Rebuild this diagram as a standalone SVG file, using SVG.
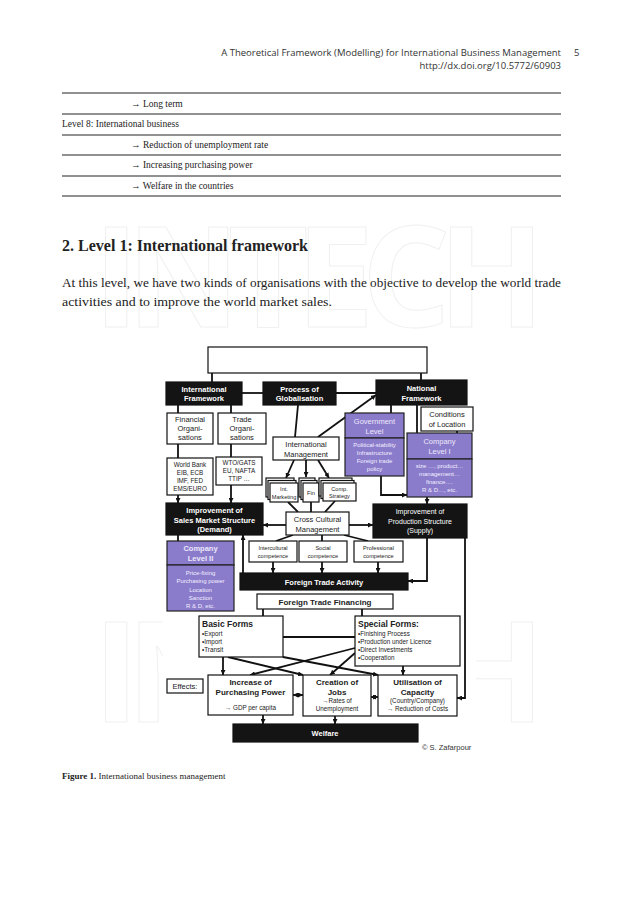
<svg xmlns="http://www.w3.org/2000/svg" width="638" height="901" viewBox="0 0 638 901">
<defs>
<marker id="ah" viewBox="0 0 6 6" refX="6" refY="3" markerWidth="5" markerHeight="5" markerUnits="userSpaceOnUse" orient="auto-start-reverse"><path d="M0,0 L6,3 L0,6 z" fill="#111"/></marker>
</defs>
<style>
.hdr{font-family:"Open Sans","Liberation Sans",sans-serif;font-size:9.5px;fill:#333}
.serif{font-family:"Liberation Serif",serif;fill:#222}
.wm{font-family:"Open Sans","Liberation Sans",sans-serif;font-weight:bold;font-size:140px;fill:none;stroke:#f0f0f0;stroke-width:1}
.rule{stroke:#222;stroke-width:1}
.box{fill:#fff;stroke:#111;stroke-width:1.2}
.blk{fill:#141414;stroke:#111;stroke-width:1.2}
.pur{fill:#8b7ccb;stroke:#222;stroke-width:1.2}
text{font-family:"Liberation Sans",Arial,sans-serif}
.t{font-size:7.5px;fill:#222;text-anchor:middle}
.ts{font-size:6.3px;fill:#222;text-anchor:middle}
.tx{font-size:5.6px;fill:#222;text-anchor:middle}
.w{font-size:7.5px;fill:#fff;font-weight:bold;text-anchor:middle}
.wn{font-size:7px;fill:#fff;text-anchor:middle}
.pl{font-size:7.5px;fill:#ece8fa;text-anchor:middle}
.pb{font-size:6px;fill:#f2efff;text-anchor:middle}
.b{font-size:8px;fill:#222;font-weight:bold;text-anchor:middle}
.lt{font-size:6.3px;fill:#222}
.c{stroke:#111;stroke-width:1.8;fill:none}
.ca{stroke:#111;stroke-width:1.8;fill:none;marker-end:url(#ah)}
</style>
<rect width="638" height="901" fill="#fff"/>
<!-- watermark -->
<text class="wm" x="93" y="327" textLength="452" lengthAdjust="spacing">INTECH</text>
<text class="wm" x="93" y="722" textLength="452" lengthAdjust="spacing">INTECH</text>
<rect x="163" y="338" width="313" height="416" fill="#fff"/>
<!-- header -->
<text class="hdr" x="561" y="56" text-anchor="end">A Theoretical Framework (Modelling) for International Business Management</text>
<text class="hdr" x="574" y="56">5</text>
<text class="hdr" x="561" y="69" text-anchor="end">http://dx.doi.org/10.5772/60903</text>
<!-- table -->
<g>
<line class="rule" x1="62" y1="93" x2="561" y2="93"/>
<line class="rule" x1="62" y1="114" x2="561" y2="114"/>
<line class="rule" x1="62" y1="135" x2="561" y2="135"/>
<line class="rule" x1="62" y1="155" x2="561" y2="155"/>
<line class="rule" x1="62" y1="176" x2="561" y2="176"/>
<line class="rule" x1="62" y1="196" x2="561" y2="196"/>
<text class="serif" x="131" y="107" font-size="9.5">→  Long term</text>
<text class="serif" x="62" y="127" font-size="9.5">Level 8: International business</text>
<text class="serif" x="131" y="148" font-size="9.5">→  Reduction of unemployment rate</text>
<text class="serif" x="131" y="168" font-size="9.5">→  Increasing purchasing power</text>
<text class="serif" x="131" y="189" font-size="9.5">→  Welfare in the countries</text>
</g>
<text class="serif" x="62" y="251" font-size="17" font-weight="bold" textLength="246" lengthAdjust="spacingAndGlyphs">2. Level 1: International framework</text>
<text class="serif" x="62" y="287" font-size="12.8" textLength="499" lengthAdjust="spacingAndGlyphs">At this level, we have two kinds of organisations with the objective to develop the world trade</text>
<text class="serif" x="62" y="306" font-size="12.8" textLength="270" lengthAdjust="spacingAndGlyphs">activities and to improve the world market sales.</text>

<!-- connectors -->
<g id="connectors">
<line class="c" x1="212" y1="373" x2="212" y2="382"/>
<line class="c" x1="421" y1="373" x2="421" y2="380"/>
<line class="c" x1="242" y1="393" x2="263" y2="393"/>
<line class="c" x1="336" y1="393" x2="376" y2="393"/>
<line class="c" x1="298" y1="405" x2="295" y2="437"/>
<line class="ca" x1="318" y1="437" x2="376" y2="395"/>
<line class="c" x1="178" y1="405" x2="178" y2="413"/>
<line class="c" x1="231" y1="405" x2="231" y2="413"/>
<line class="c" x1="178" y1="444" x2="178" y2="458"/>
<line class="c" x1="231" y1="444" x2="231" y2="457"/>
<line class="ca" x1="178" y1="495" x2="178" y2="503"/>
<line class="ca" x1="231" y1="485" x2="231" y2="503"/>
<line class="c" x1="391" y1="405" x2="391" y2="413"/>
<line class="c" x1="417" y1="405" x2="417" y2="433"/>
<line class="c" x1="457" y1="431" x2="457" y2="433"/>
<path class="ca" d="M381,476 V495 H407"/>
<line class="ca" x1="427" y1="497" x2="427" y2="504"/>
<line class="ca" x1="294" y1="460" x2="286" y2="478"/>
<line class="ca" x1="306" y1="460" x2="306" y2="477"/>
<line class="ca" x1="318" y1="460" x2="329" y2="478"/>
<line class="c" x1="288" y1="502" x2="298" y2="512"/>
<line class="c" x1="311" y1="502" x2="311" y2="512"/>
<line class="c" x1="335" y1="501" x2="325" y2="512"/>
<line class="ca" x1="286" y1="525" x2="263" y2="525"/>
<line class="ca" x1="349" y1="525" x2="373" y2="525"/>
<line class="c" x1="178" y1="535" x2="178" y2="541"/>
<line class="c" x1="293" y1="535" x2="276" y2="541"/>
<line class="c" x1="322" y1="535" x2="322" y2="541"/>
<line class="c" x1="344" y1="535" x2="368" y2="541"/>
<line class="ca" x1="273" y1="562" x2="273" y2="573"/>
<line class="ca" x1="322" y1="562" x2="322" y2="573"/>
<line class="ca" x1="378" y1="562" x2="378" y2="573"/>
<line class="ca" x1="243" y1="573" x2="243" y2="535"/>
<path class="ca" d="M427,538 V581 H408"/>
<path class="ca" d="M465,538 V698 H457"/>
<line class="c" x1="263" y1="609" x2="263" y2="616"/>
<line class="c" x1="362" y1="609" x2="362" y2="616"/>
<line class="c" x1="283" y1="637" x2="355" y2="637"/>
<line class="ca" x1="223" y1="657" x2="223" y2="675"/>
<line class="ca" x1="228" y1="657" x2="303" y2="675"/>
<line class="ca" x1="283" y1="657" x2="378" y2="675"/>
<line class="ca" x1="355" y1="648" x2="250" y2="675"/>
<line class="ca" x1="355" y1="653" x2="330" y2="675"/>
<line class="ca" x1="403" y1="666" x2="403" y2="675"/>
<line class="ca" x1="293" y1="695" x2="303" y2="695" marker-start="url(#ah)"/>
<line class="ca" x1="371" y1="697" x2="378" y2="697" marker-start="url(#ah)"/>
<line class="ca" x1="263" y1="715" x2="263" y2="724"/>
<line class="ca" x1="335" y1="716" x2="335" y2="724"/>
</g>

<!-- nodes -->
<g id="top-box"><rect class="box" x="208" y="347" width="219" height="26"/></g>
<g id="intl-framework"><rect class="blk" x="166" y="382" width="76" height="23"/>
<text class="w" x="204" y="391.5">International</text><text class="w" x="204" y="401">Framework</text></g>
<g id="globalisation"><rect class="blk" x="263" y="382" width="73" height="23"/>
<text class="w" x="299.5" y="391.5">Process of</text><text class="w" x="299.5" y="401">Globalisation</text></g>
<g id="natl-framework"><rect class="blk" x="376" y="380" width="91" height="25"/>
<text class="w" x="421.5" y="390.5">National</text><text class="w" x="421.5" y="401">Framework</text></g>
<g id="financial-org"><rect class="box" x="167" y="413" width="46" height="31"/>
<text class="t" x="190" y="422">Financial</text><text class="t" x="190" y="431">Organi-</text><text class="t" x="190" y="440">sations</text></g>
<g id="trade-org"><rect class="box" x="218" y="413" width="48" height="31"/>
<text class="t" x="242" y="422">Trade</text><text class="t" x="242" y="431">Organi-</text><text class="t" x="242" y="440">sations</text></g>
<g id="conditions"><rect class="box" x="421" y="407" width="52" height="24"/>
<text class="t" x="447" y="417">Conditions</text><text class="t" x="447" y="427">of Location</text></g>
<g id="government"><rect class="pur" x="345" y="413" width="59" height="25"/><rect class="pur" x="345" y="438" width="59" height="38"/>
<text class="pl" x="374.5" y="423.5">Government</text><text class="pl" x="374.5" y="434">Level</text>
<text class="pb" x="374.5" y="447">Political-stability</text><text class="pb" x="374.5" y="455">Infrastructure</text><text class="pb" x="374.5" y="463">Foreign trade</text><text class="pb" x="374.5" y="471">policy</text></g>
<g id="company-1"><rect class="pur" x="407" y="433" width="65" height="26"/><rect class="pur" x="407" y="459" width="65" height="38"/>
<text class="pl" x="439.5" y="443.5">Company</text><text class="pl" x="439.5" y="454">Level I</text>
<text class="pb" x="439.5" y="468">size …, product…</text><text class="pb" x="439.5" y="476">management…</text><text class="pb" x="439.5" y="484">finance….</text><text class="pb" x="439.5" y="492">R &amp; D…, etc.</text></g>
<g id="intl-management"><rect class="box" x="273" y="437" width="66" height="23"/>
<text class="t" x="306" y="447">International</text><text class="t" x="306" y="456.5">Management</text></g>
<g id="world-bank"><rect class="box" x="167" y="458" width="46" height="37"/>
<text class="ts" x="190" y="467">World Bank</text><text class="ts" x="190" y="475">EIB, ECB</text><text class="ts" x="190" y="483">IMF, FED</text><text class="ts" x="190" y="491">EMS/EURO</text></g>
<g id="wto"><rect class="box" x="216" y="457" width="46" height="28"/>
<text class="ts" x="239" y="465">WTO/GATS</text><text class="ts" x="239" y="473">EU, NAFTA</text><text class="ts" x="239" y="481">TTIP …</text></g>
<g id="int-marketing"><rect class="box" x="266" y="478" width="28" height="19"/><rect class="box" x="268" y="480.5" width="28" height="19"/><rect class="box" x="270" y="483" width="28" height="19"/>
<text class="tx" x="284" y="491">Int.</text><text class="tx" x="284" y="498.5">Marketing</text></g>
<g id="fin"><rect class="box" x="299" y="478" width="16" height="19"/><rect class="box" x="301" y="480.5" width="16" height="19"/><rect class="box" x="303" y="483" width="16" height="19"/>
<text class="tx" x="311" y="495">Fin</text></g>
<g id="comp-strategy"><rect class="box" x="319" y="478" width="33" height="18"/><rect class="box" x="321" y="480.5" width="33" height="18"/><rect class="box" x="323" y="483" width="33" height="18"/>
<text class="tx" x="339.5" y="491">Comp.</text><text class="tx" x="339.5" y="498">Strategy</text></g>
<g id="sales-market"><rect class="blk" x="166" y="503" width="97" height="32"/>
<text class="w" x="214.5" y="513">Improvement of</text><text class="w" x="214.5" y="522.5">Sales Market Structure</text><text class="w" x="214.5" y="532">(Demand)</text></g>
<g id="cross-cultural"><rect class="box" x="286" y="512" width="63" height="23"/>
<text class="t" x="317.5" y="521.5" font-size="8">Cross Cultural</text><text class="t" x="317.5" y="531.5" font-size="8">Management</text></g>
<g id="production"><rect class="blk" x="373" y="504" width="94" height="34"/>
<text class="wn" x="420" y="514">Improvement of</text><text class="wn" x="420" y="523.5">Production Structure</text><text class="wn" x="420" y="533">(Supply)</text></g>
<g id="company-2"><rect class="pur" x="167" y="541" width="67" height="24"/><rect class="pur" x="167" y="565" width="67" height="46"/>
<text class="pl" x="200.5" y="551" font-weight="bold">Company</text><text class="pl" x="200.5" y="561" font-weight="bold">Level II</text>
<text class="pb" x="200.5" y="575" font-size="6.3">Price-fixing</text><text class="pb" x="200.5" y="583" font-size="6.3">Purchasing power</text><text class="pb" x="200.5" y="591.5" font-size="6.3">Location</text><text class="pb" x="200.5" y="600" font-size="6.3">Sanction</text><text class="pb" x="200.5" y="608" font-size="6.3">R &amp; D, etc.</text></g>
<g id="intercultural"><rect class="box" x="249" y="541" width="48" height="21"/>
<text class="tx" x="273" y="549.5">Intercultural</text><text class="tx" x="273" y="557.5">competence</text></g>
<g id="social"><rect class="box" x="299" y="541" width="48" height="21"/>
<text class="tx" x="323" y="549.5">Social</text><text class="tx" x="323" y="557.5">competence</text></g>
<g id="professional"><rect class="box" x="354" y="541" width="49" height="21"/>
<text class="tx" x="378.5" y="549.5">Professional</text><text class="tx" x="378.5" y="557.5">competence</text></g>
<g id="fta"><rect class="blk" x="240" y="573" width="168" height="17"/>
<text class="w" x="324" y="585" font-size="9.5">Foreign Trade Activity</text></g>
<g id="ftf"><rect class="box" x="257" y="594" width="136" height="15"/>
<text class="b" x="325" y="605" font-size="9">Foreign Trade Financing</text></g>
<g id="basic-forms"><rect class="box" x="199" y="616" width="84" height="41"/>
<text x="202" y="627" font-size="8.5" font-weight="bold" fill="#222">Basic Forms</text>
<text class="lt" x="202" y="636">•Export</text><text class="lt" x="202" y="644">•Import</text><text class="lt" x="202" y="652">•Transit</text></g>
<g id="special-forms"><rect class="box" x="355" y="616" width="105" height="50"/>
<text x="358" y="627" font-size="8.5" font-weight="bold" fill="#222">Special Forms:</text>
<text class="lt" x="358" y="636">•Finishing Process</text><text class="lt" x="358" y="644">•Production under Licence</text><text class="lt" x="358" y="652">•Direct Investments</text><text class="lt" x="358" y="660">•Cooperation</text></g>
<g id="effects"><rect class="box" x="167" y="679" width="36" height="14"/>
<text class="t" x="185" y="689">Effects:</text></g>
<g id="purchasing-power"><rect class="box" x="208" y="675" width="85" height="40"/>
<text class="b" x="250.5" y="685">Increase of</text><text class="b" x="250.5" y="694.5">Purchasing Power</text><text class="ts" x="250.5" y="710">→ GDP per capita</text></g>
<g id="jobs"><rect class="box" x="303" y="675" width="68" height="41"/>
<text class="b" x="337" y="685">Creation of</text><text class="b" x="337" y="694.5">Jobs</text><text class="ts" x="337" y="703">→Rates of</text><text class="ts" x="337" y="711">Unemployment</text></g>
<g id="capacity"><rect class="box" x="378" y="675" width="79" height="41"/>
<text class="b" x="417.5" y="685">Utilisation of</text><text class="b" x="417.5" y="694.5">Capacity</text><text class="ts" x="417.5" y="703">(Country/Company)</text><text class="ts" x="417.5" y="711">→ Reduction of Costs</text></g>
<g id="welfare"><rect class="blk" x="233" y="724" width="185" height="18"/>
<text class="w" x="325" y="736" font-size="8.5">Welfare</text></g>
<text x="422" y="750" font-size="7.5" fill="#333">© S. Zafarpour</text>
<text class="serif" x="62" y="779" font-size="9"><tspan font-weight="bold">Figure 1.</tspan> International business management</text>
</svg>
